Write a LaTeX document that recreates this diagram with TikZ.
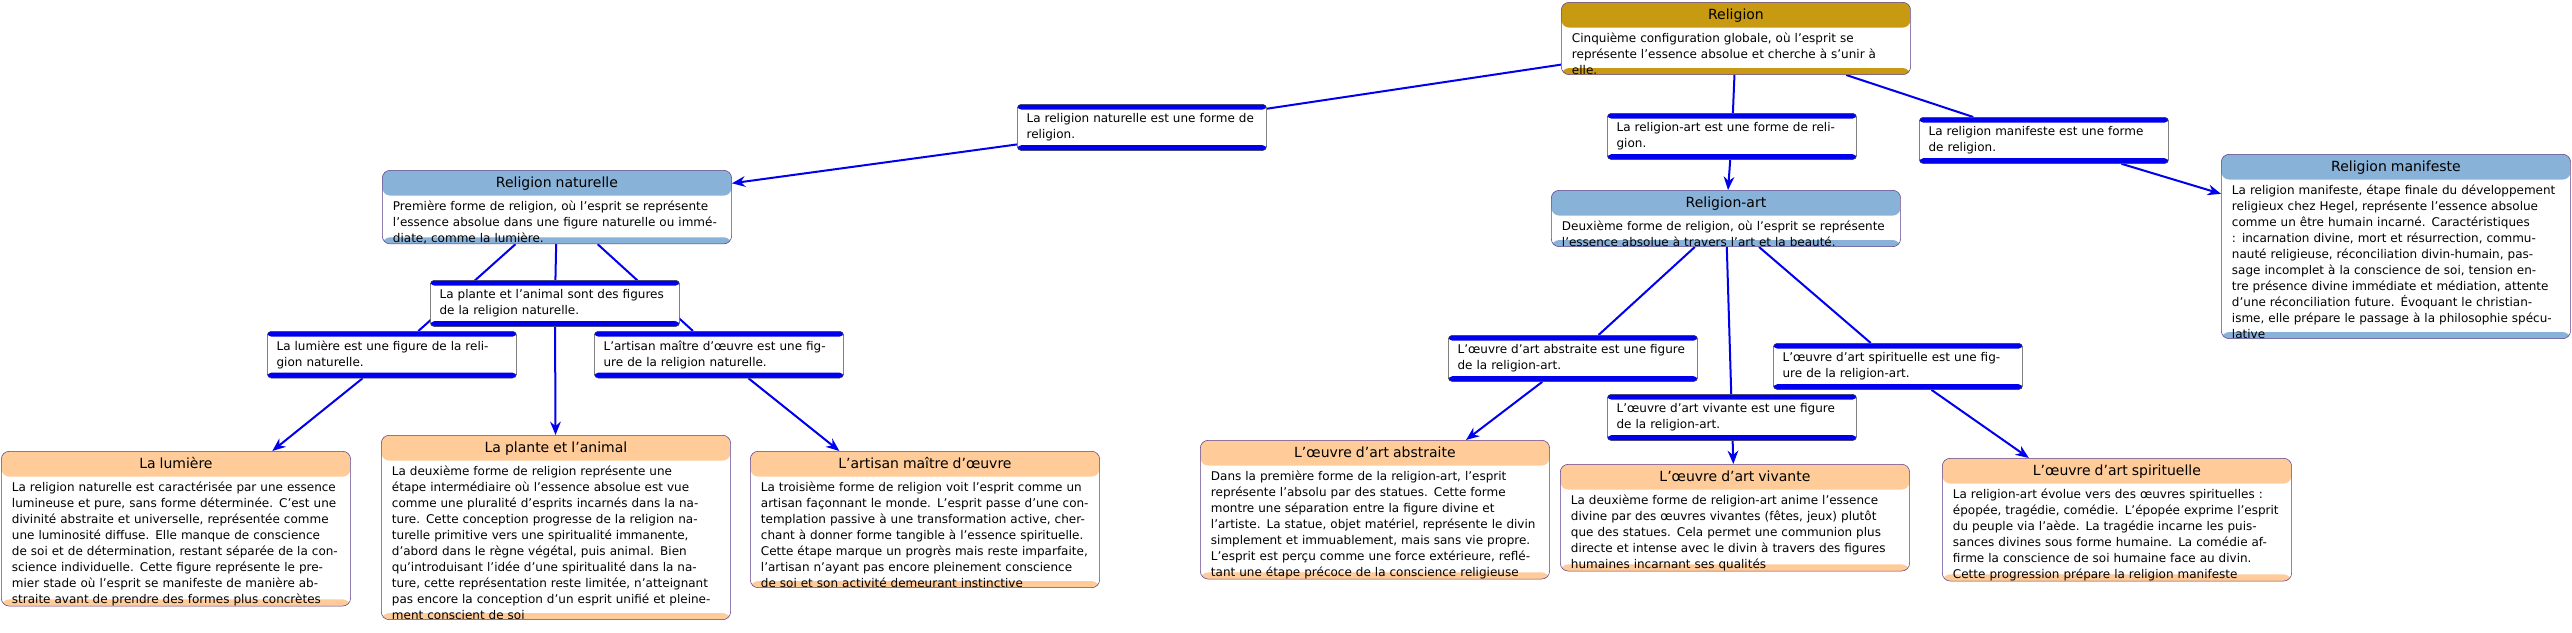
\documentclass[tikz,border=0pt]{standalone}
\usepackage{fontspec}
\setmainfont{DejaVu Sans}
\usepackage{xcolor}
\usetikzlibrary{positioning,arrows.meta,backgrounds}

\definecolor{frame}{HTML}{5B3C88}
\definecolor{gold}{HTML}{C89A12}
\definecolor{skyhead}{HTML}{88B2D8}
\definecolor{peach}{HTML}{FFCC99}
\definecolor{linkblue}{HTML}{0000EE}

\tikzset{
  concept/.style={draw=frame, rounded corners=6pt, fill=white, text width=246pt,
    align=left, inner xsep=8pt, inner ysep=0pt, anchor=north west,
    font=\fontsize{9}{12}\selectfont,
    path picture={
      \fill[#1] (path picture bounding box.north west) rectangle
        ([yshift=-19pt]path picture bounding box.north east);
      \fill[#1] (path picture bounding box.south west) rectangle
        ([yshift=5pt]path picture bounding box.south east);}},
  linkbox/.style={draw=black!75, rounded corners=3pt, fill=white, text width=173pt,
    align=left, inner xsep=7pt, inner ysep=7pt, anchor=north west,
    font=\fontsize{9}{12}\selectfont,
    path picture={
      \fill[linkblue] (path picture bounding box.north west) rectangle
        ([yshift=-4pt]path picture bounding box.north east);
      \fill[linkblue] (path picture bounding box.south west) rectangle
        ([yshift=4pt]path picture bounding box.south east);}},
  conn/.style={linkblue, line width=1.5pt},
  arr/.style={conn, -{Stealth[length=10pt, width=8pt]}}
}
\newcommand{\ctitle}[1]{{\centering\fontsize{10.5}{12}\selectfont\rule[-6pt]{0pt}{19pt}#1\par}\vspace{3pt}}
\newcommand{\cend}{\par\vspace{7pt}}

\begin{document}
\begin{tikzpicture}[x=0.75pt, y=-0.75pt]
\useasboundingbox (0,0) rectangle (2572,632);

% top level
\node[concept=gold] (religion) at (1561,2) {\ctitle{Religion}Cinquième configuration globale, où l'esprit se représente l'essence absolue et cherche à s'unir à elle.\cend};

\node[linkbox] (lnat) at (1017,104) {La religion naturelle est une forme de religion.};
\node[linkbox] (lrelart) at (1607,113) {La religion-art est une forme de religion.};
\node[linkbox] (lmanif) at (1919,117) {La religion manifeste est une forme de religion.};

\node[concept=skyhead] (relnat) at (382,170) {\ctitle{Religion naturelle}Première forme de religion, où l'esprit se représente l'essence absolue dans une figure naturelle ou immédiate, comme la lumière.\cend};
\node[concept=skyhead] (relart) at (1551,190) {\ctitle{Religion-art}Deuxième forme de religion, où l'esprit se représente l'essence absolue à travers l'art et la beauté.\cend};
\node[concept=skyhead] (relmanif) at (2221,154) {\ctitle{Religion manifeste}La religion manifeste, étape finale du développement religieux chez Hegel, représente l'essence absolue comme un être humain incarné. Caractéristiques : incarnation divine, mort et résurrection, communauté religieuse, réconciliation divin-humain, passage incomplet à la conscience de soi, tension entre présence divine immédiate et médiation, attente d'une réconciliation future. Évoquant le christianisme, elle prépare le passage à la philosophie spéculative\cend};

% religion naturelle
\node[linkbox] (lplante) at (430,280) {La plante et l'animal sont des figures de la religion naturelle.};
\node[linkbox] (llum) at (267,331) {La lumière est une figure de la religion naturelle.};
\node[linkbox] (lartisan) at (594,331) {L'artisan maître d'œuvre est une figure de la religion naturelle.};

\node[concept=peach] (lumiere) at (1,451) {\ctitle{La lumière}La religion naturelle est caractérisée par une essence lumineuse et pure, sans forme déterminée. C'est une divinité abstraite et universelle, représentée comme une luminosité diffuse. Elle manque de conscience de soi et de détermination, restant séparée de la conscience individuelle. Cette figure représente le premier stade où l'esprit se manifeste de manière abstraite avant de prendre des formes plus concrètes\cend};
\node[concept=peach] (plante) at (381,435) {\ctitle{La plante et l'animal}La deuxième forme de religion représente une étape intermédiaire où l'essence absolue est vue comme une pluralité d'esprits incarnés dans la nature. Cette conception progresse de la religion naturelle primitive vers une spiritualité immanente, d'abord dans le règne végétal, puis animal. Bien qu'introduisant l'idée d'une spiritualité dans la nature, cette représentation reste limitée, n'atteignant pas encore la conception d'un esprit unifié et pleinement conscient de soi\cend};
\node[concept=peach] (artisan) at (750,451) {\ctitle{L'artisan maître d'œuvre}La troisième forme de religion voit l'esprit comme un artisan façonnant le monde. L'esprit passe d'une contemplation passive à une transformation active, cherchant à donner forme tangible à l'essence spirituelle. Cette étape marque un progrès mais reste imparfaite, l'artisan n'ayant pas encore pleinement conscience de soi et son activité demeurant instinctive\cend};

% religion-art
\node[linkbox] (labs) at (1448,335) {L'œuvre d'art abstraite est une figure de la religion-art.};
\node[linkbox] (lviv) at (1607,394) {L'œuvre d'art vivante est une figure de la religion-art.};
\node[linkbox] (lspir) at (1773,343) {L'œuvre d'art spirituelle est une figure de la religion-art.};

\node[concept=peach] (abstraite) at (1200,440) {\ctitle{L'œuvre d'art abstraite}Dans la première forme de la religion-art, l'esprit représente l'absolu par des statues. Cette forme montre une séparation entre la figure divine et l'artiste. La statue, objet matériel, représente le divin simplement et immuablement, mais sans vie propre. L'esprit est perçu comme une force extérieure, reflétant une étape précoce de la conscience religieuse\cend};
\node[concept=peach] (vivante) at (1560,464) {\ctitle{L'œuvre d'art vivante}La deuxième forme de religion-art anime l'essence divine par des œuvres vivantes (fêtes, jeux) plutôt que des statues. Cela permet une communion plus directe et intense avec le divin à travers des figures humaines incarnant ses qualités\cend};
\node[concept=peach] (spirituelle) at (1942,458) {\ctitle{L'œuvre d'art spirituelle}La religion-art évolue vers des œuvres spirituelles : épopée, tragédie, comédie. L'épopée exprime l'esprit du peuple via l'aède. La tragédie incarne les puissances divines sous forme humaine. La comédie affirme la conscience de soi humaine face au divin. Cette progression prépare la religion manifeste\cend};

\begin{pgfonlayer}{background}
\draw[conn] (religion) -- (lnat);
\draw[arr] (lnat) -- (relnat);
\draw[conn] (religion) -- (lrelart);
\draw[arr] (lrelart) -- (relart);
\draw[conn] (religion) -- (lmanif);
\draw[arr] (lmanif) -- (relmanif);

\draw[conn] (relnat) -- (lplante);
\draw[conn] (relnat) -- (llum);
\draw[conn] (relnat) -- (lartisan);
\draw[arr] (lplante) -- (plante);
\draw[arr] (llum) -- (lumiere);
\draw[arr] (lartisan) -- (artisan);

\draw[conn] (relart) -- (labs);
\draw[conn] (relart) -- (lviv);
\draw[conn] (relart) -- (lspir);
\draw[arr] (labs) -- (abstraite);
\draw[arr] (lviv) -- (vivante);
\draw[arr] (lspir) -- (spirituelle);
\end{pgfonlayer}
\end{tikzpicture}
\end{document}
